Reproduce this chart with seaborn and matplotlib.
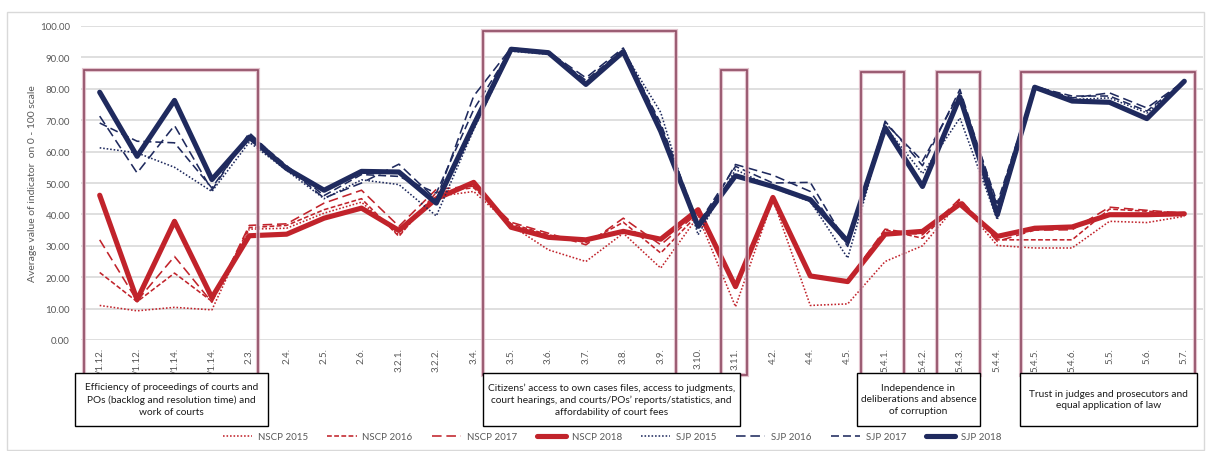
import matplotlib
matplotlib.use("Agg")
import matplotlib.pyplot as plt
import pandas as pd
import seaborn as sns
from matplotlib.patches import Rectangle

# Indicator codes on the x axis
labels = ["/1.12.", "/1.12.", "/1.14.", "/1.14.", "2.3.", "2.4.", "2.5.", "2.6.", "3.2.1.", "3.2.2.",
          "3.4.", "3.5.", "3.6.", "3.7.", "3.8.", "3.9.", "3.10.", "3.11.", "4.2.", "4.4.",
          "4.5.", "5.4.1.", "5.4.2.", "5.4.3.", "5.4.4.", "5.4.5.", "5.4.6.", "5.5.", "5.6.", "5.7."]

# Average indicator values (0 - 100 scale)
nscp_2015 = [11.0, 9.3, 10.4, 9.6, 35.3, 35.6, 40.4, 43.9, 33.5, 45.7, 47.3, 36.5, 28.7, 25.0, 34.0,
             22.9, 39.4, 10.6, 44.7, 11.0, 11.5, 25.0, 30.0, 44.1, 30.1, 29.3, 29.3, 37.8, 37.4, 39.4]
nscp_2016 = [21.5, 12.2, 21.3, 12.3, 35.8, 36.5, 41.5, 45.0, 33.0, 47.0, 48.5, 37.0, 33.5, 31.0, 37.5,
             27.7, 40.0, 17.5, 45.5, 20.5, 18.7, 35.1, 32.4, 44.7, 31.9, 31.9, 31.9, 41.7, 41.0, 40.4]
nscp_2017 = [31.9, 12.5, 26.6, 12.0, 36.5, 37.0, 43.6, 47.7, 36.2, 48.0, 49.0, 37.5, 34.0, 30.3, 38.8,
             30.3, 40.5, 18.0, 45.8, 20.8, 18.9, 35.3, 33.5, 45.0, 31.4, 35.0, 35.1, 42.3, 41.3, 40.4]
nscp_2018 = [46.1, 12.8, 37.8, 13.5, 33.2, 33.7, 38.8, 42.0, 34.9, 45.0, 50.2, 35.9, 32.7, 31.9, 34.6,
             32.1, 41.5, 17.0, 45.4, 20.4, 18.6, 33.7, 34.6, 43.3, 33.0, 35.6, 36.0, 39.9, 39.9, 40.2]
sjp_2015 = [61.2, 59.6, 55.0, 47.3, 63.0, 54.0, 45.0, 51.0, 49.5, 39.5, 67.0, 92.0, 91.0, 82.0, 92.0,
            72.5, 33.5, 54.3, 48.5, 44.1, 26.1, 68.0, 53.0, 70.7, 38.3, 80.3, 76.6, 77.1, 72.3, 81.9]
sjp_2016 = [71.3, 53.2, 68.3, 47.7, 66.0, 55.0, 45.2, 50.0, 56.0, 44.7, 77.7, 93.0, 91.8, 83.5, 93.0,
            68.0, 35.0, 55.9, 52.5, 47.3, 29.8, 69.7, 55.5, 79.8, 42.6, 80.9, 77.1, 78.7, 73.9, 82.4]
sjp_2017 = [69.1, 63.3, 62.8, 48.4, 65.5, 55.5, 46.0, 52.7, 52.1, 46.8, 73.4, 92.5, 91.6, 82.7, 92.5,
            69.0, 37.0, 55.3, 50.0, 50.2, 30.3, 69.1, 57.0, 78.7, 43.6, 80.6, 77.7, 77.7, 72.9, 82.4]
sjp_2018 = [78.9, 58.5, 76.3, 51.1, 64.6, 54.6, 47.7, 53.7, 53.5, 43.6, 68.5, 92.6, 91.5, 81.4, 91.8,
            66.5, 36.2, 52.3, 48.9, 44.7, 31.4, 67.6, 48.9, 77.4, 39.9, 80.5, 76.1, 75.7, 70.5, 82.4]

series_names = ["NSCP 2015", "NSCP 2016", "NSCP 2017", "NSCP 2018",
                "SJP 2015", "SJP 2016", "SJP 2017", "SJP 2018"]
series_values = [nscp_2015, nscp_2016, nscp_2017, nscp_2018, sjp_2015, sjp_2016, sjp_2017, sjp_2018]

# Groups of indicators framed on the chart
group_texts = ["Efficiency of proceedings of courts and\nPOs (backlog and resolution time) and\nwork of courts",
               "Citizens\u2019 access to own cases files, access to judgments,\ncourt hearings, and courts/POs\u2019 reports/statistics, and\naffordability of court fees",
               "Independence in\ndeliberations and absence\nof corruption",
               "Trust in judges and prosecutors and\nequal application of law"]

# long-form table for seaborn
df = pd.concat([pd.DataFrame({"pos": range(len(labels)), "value": vals, "series": name})
                for name, vals in zip(series_names, series_values)], ignore_index=True)

RED = "#C1232B"
NAVY = "#1F2A5E"
palette = {n: (RED if n.startswith("NSCP") else NAVY) for n in series_names}
sizes = {n: (3.7 if n.endswith("2018") else 1.15) for n in series_names}
dashes = {"NSCP 2015": (1, 1.2), "NSCP 2016": (3, 1.5), "NSCP 2017": (6, 3), "NSCP 2018": "",
          "SJP 2015": (1, 1.2), "SJP 2016": (6, 3), "SJP 2017": (5, 2.5), "SJP 2018": ""}

sns.set_theme(style="white")
plt.rcParams["font.family"] = ["Lato", "DejaVu Sans"]

W, H = 1206, 452
fig = plt.figure(figsize=(W / 100, H / 100), dpi=100)
ax = fig.add_axes([81 / W, 1 - 341 / H, (1203 - 81) / W, (341 - 27) / H])

sns.lineplot(data=df, x="pos", y="value", hue="series", style="series", size="series",
             palette=palette, sizes=sizes, dashes=dashes, ax=ax, legend="full", zorder=3)

ax.set_xlim(-0.5, len(labels) - 0.5)
ax.set_ylim(0, 100)
ax.set_yticks(range(0, 101, 10))
ax.set_yticklabels([f"{v:.2f}" for v in range(0, 101, 10)], fontsize=7, color="#595959")
ax.set_xticks(range(len(labels)))
ax.set_xticklabels(labels, rotation=90, fontsize=7, color="#595959", va="top")
ax.tick_params(axis="y", length=0, pad=8)
ax.tick_params(axis="x", length=0, pad=5)
ax.grid(axis="y", color="#D9D9D9", lw=1.2)
ax.set_axisbelow(True)
for s in ax.spines.values():
    s.set_visible(False)
ax.set_xlabel("")
ax.set_ylabel("Average value of indicator  on 0 - 100 scale", fontsize=7.5, color="#595959", labelpad=2)

# framed groups of indicators (x from / to, top value)
frames = [(-0.43, 4.23, 86), (10.25, 15.41, 98.4), (16.61, 17.31, 86),
          (20.36, 21.51, 85.5), (22.39, 23.54, 85.5), (24.64, 29.29, 85.5)]
for x0, x1, top in frames:
    ax.add_patch(Rectangle((x0, -11), x1 - x0, top + 11, fill=False, edgecolor="#DDB5C2",
                           lw=3.0, clip_on=False, zorder=5, alpha=0.8))
    ax.add_patch(Rectangle((x0, -11), x1 - x0, top + 11, fill=False, edgecolor="#8E4A62",
                           lw=1.2, clip_on=False, zorder=6))

# text boxes below the axis (pixel positions)
boxes = [(75, 268), (483, 740), (857, 980), (1020, 1197)]
for (bx0, bx1), txt in zip(boxes, group_texts):
    fig.add_artist(Rectangle((bx0 / W, 1 - 427 / H), (bx1 - bx0) / W, (427 - 374) / H,
                             transform=fig.transFigure, facecolor="white", edgecolor="black",
                             lw=1, zorder=10))
    fig.text((bx0 + bx1) / 2 / W, 1 - 400 / H, txt, ha="center", va="center", fontsize=7.3,
             color="#1A1A1A", linespacing=1.4, zorder=11)

# outer chart border
fig.add_artist(Rectangle((7 / W, 1 / H), (W - 9) / W, (H - 14) / H, transform=fig.transFigure,
                         fill=False, edgecolor="#D9D9D9", lw=1))

handles, lbls = ax.get_legend_handles_labels()
pairs = [(h, l) for h, l in zip(handles, lbls) if l in series_names]
ax.get_legend().remove()
fig.legend([p[0] for p in pairs], [p[1] for p in pairs], loc="center", bbox_to_anchor=(612 / W, 1 - 438 / H),
           ncol=8, frameon=False, fontsize=7, handlelength=3, handletextpad=0.6, columnspacing=2.0,
           labelcolor="#595959")

fig.savefig("out.png", dpi=100)
